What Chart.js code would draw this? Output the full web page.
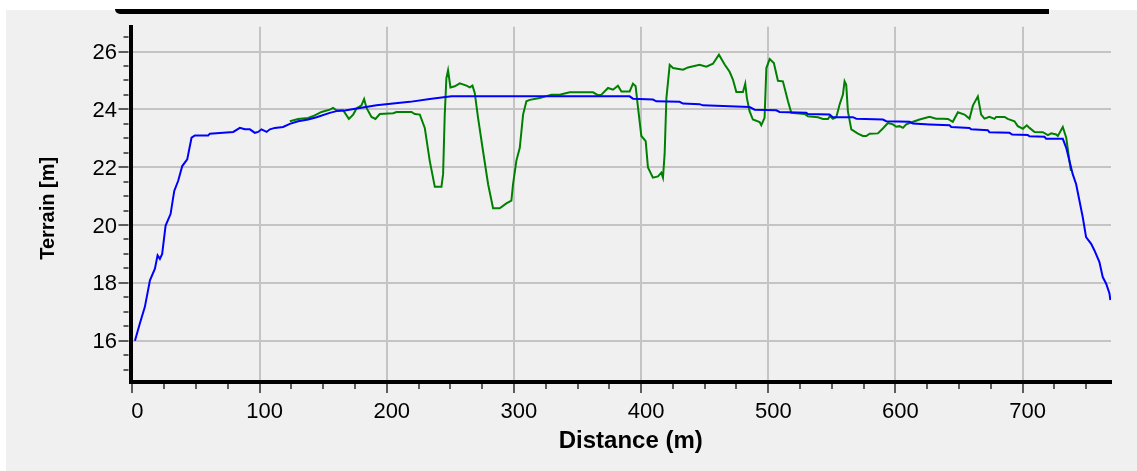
<!DOCTYPE html>
<html>
<head>
<meta charset="utf-8">
<title>Terrain profile</title>
<script src="https://cdn.jsdelivr.net/npm/chart.js@4.4.1/dist/chart.umd.min.js"></script>
<style>
  html, body { margin: 0; padding: 0; background: #fff; }
  #wrap { position: relative; width: 1137px; height: 471px; overflow: hidden; }
  #panel { position: absolute; left: 6px; top: 10px; right: 0; bottom: 0; background: #f0f0f0; }
  #bar { position: absolute; left: 115px; top: 9px; width: 934px; height: 5px; background: #000; border-bottom-left-radius: 5px; }
  canvas { position: absolute; left: 0; top: 0; }
</style>
</head>
<body>
<div id="wrap">
  <div id="panel"></div>
  <div id="bar"></div>
  <canvas id="profileChart" width="1137" height="471"></canvas>
</div>
<script>
// terrain line (blue)
var terrainDist = [2, 5.9, 9.8, 13.8, 17.7, 19.8, 21.6, 23.4, 26.1, 30.0,
  32.9, 36.0, 39.2, 43.1, 46.5, 49.1, 59.6, 60.9, 71.4, 79.3,
  84.5, 88.4, 92.4, 96.3, 98.9, 101.5, 105.5, 108.1, 112.0, 118.5,
  123.8, 130.3, 138.2, 144.8, 155.2, 160.5, 167.0, 178.8, 191.9, 205.0,
  218.1, 233.8, 250.9, 391.0, 393.6, 409.3, 412.0, 430.3, 432.9, 446.0,
  448.6, 469.6, 485.3, 489.3, 506.3, 508.9, 529.9, 531.2, 548.2, 550.8,
  566.6, 569.2, 590.1, 592.8, 611.1, 613.7, 626.8, 642.5, 643.9, 658.2,
  659.5, 672.6, 673.9, 689.7, 691.8, 704.1, 705.4, 717.2, 718.5, 731.6,
  734.3, 736.8, 739.4, 742.1, 744.7, 747.3, 749.9, 753.9, 756.5, 760.4,
  763.0, 765.7, 768.3, 769.0];
var terrainElev = [16.0, 16.6, 17.17, 18.09, 18.49, 18.95, 18.83, 19.0, 19.98, 20.38,
  21.18, 21.53, 22.04, 22.27, 23.02, 23.10, 23.10, 23.16, 23.19, 23.22,
  23.36, 23.31, 23.31, 23.19, 23.22, 23.31, 23.22, 23.31, 23.36, 23.39,
  23.50, 23.59, 23.65, 23.73, 23.88, 23.94, 23.96, 24.05, 24.14, 24.20,
  24.26, 24.36, 24.45, 24.45, 24.37, 24.34, 24.28, 24.26, 24.20, 24.18,
  24.14, 24.11, 24.08, 23.99, 23.97, 23.91, 23.88, 23.84, 23.82, 23.73,
  23.73, 23.68, 23.65, 23.59, 23.57, 23.51, 23.48, 23.45, 23.39, 23.36,
  23.31, 23.28, 23.21, 23.19, 23.13, 23.11, 23.07, 23.05, 22.98, 22.98,
  22.67, 22.22, 21.76, 21.41, 20.84, 20.27, 19.58, 19.35, 19.12, 18.72,
  18.20, 17.97, 17.63, 17.40];

// surface line (green)
var surfaceDist = [123.8, 130.3, 138.2, 143.4, 148.7, 155.2, 157.8, 160.5, 165.7, 170.2,
  173.6, 176.2, 180.1, 182.2, 184.1, 188.0, 191.1, 194.5, 205.0, 207.7,
  219.4, 222.1, 226.0, 229.9, 233.8, 237.8, 243.0, 244.3, 245.6, 246.9,
  248.2, 250.1, 253.5, 257.4, 262.7, 265.3, 267.4, 269.2, 271.8, 275.7,
  279.7, 283.6, 288.8, 294.1, 298.0, 299.3, 301.9, 304.6, 307.2, 309.8,
  312.4, 320.3, 329.5, 336.0, 343.9, 362.2, 366.1, 368.8, 374.0, 377.9,
  381.8, 384.5, 391.0, 393.6, 395.7, 397.6, 400.2, 403.6, 405.4, 409.3,
  413.3, 415.9, 417.2, 418.5, 419.9, 422.5, 425.1, 433.0, 436.9, 446.0,
  451.3, 456.5, 461.2, 465.7, 469.6, 472.2, 474.9, 480.1, 481.9, 483.2,
  485.3, 487.9, 493.2, 494.5, 497.1, 498.5, 501.1, 504.4, 507.6, 511.5,
  515.5, 518.1, 528.6, 531.2, 539.1, 543.0, 547.0, 548.3, 550.9, 553.5,
  556.1, 558.7, 560.0, 561.3, 562.6, 565.3, 570.5, 574.4, 577.1, 579.7,
  586.2, 590.1, 594.1, 598.0, 600.6, 603.2, 605.9, 608.5, 611.1, 619.0,
  626.8, 632.0, 637.3, 641.3, 645.1, 649.1, 654.3, 658.2, 660.9, 664.8,
  667.4, 670.0, 673.9, 677.9, 679.2, 685.8, 688.3, 693.6, 696.2, 700.2,
  703.3, 705.4, 709.4, 715.9, 719.9, 722.5, 726.4, 727.7, 731.6, 734.3,
  736.8, 738.0];
var surfaceElev = [23.59, 23.67, 23.70, 23.79, 23.91, 23.99, 24.05, 23.97, 23.97, 23.67,
  23.82, 24.03, 24.14, 24.36, 24.05, 23.74, 23.67, 23.84, 23.87, 23.91,
  23.91, 23.84, 23.82, 23.36, 22.22, 21.32, 21.32, 21.76, 23.82, 25.08,
  25.35, 24.76, 24.80, 24.90, 24.82, 24.76, 24.82, 24.57, 23.71, 22.56,
  21.41, 20.58, 20.58, 20.75, 20.84, 21.41, 22.22, 22.67, 23.82, 24.28,
  24.33, 24.39, 24.51, 24.51, 24.59, 24.59, 24.49, 24.51, 24.74, 24.68,
  24.82, 24.62, 24.62, 24.89, 24.80, 24.05, 23.08, 22.90, 21.99, 21.64,
  21.68, 21.81, 21.64, 22.45, 24.39, 25.54, 25.43, 25.37, 25.45, 25.54,
  25.48, 25.58, 25.89, 25.55, 25.30, 25.03, 24.60, 24.60, 24.89, 24.39,
  23.94, 23.65, 23.56, 23.45, 23.71, 25.43, 25.74, 25.60, 24.99, 24.97,
  24.28, 23.88, 23.84, 23.76, 23.73, 23.67, 23.67, 23.76, 23.67, 23.73,
  24.17, 24.51, 24.97, 24.85, 23.94, 23.31, 23.16, 23.08, 23.08, 23.16,
  23.17, 23.34, 23.53, 23.48, 23.40, 23.42, 23.36, 23.48, 23.53, 23.65,
  23.74, 23.68, 23.68, 23.67, 23.57, 23.90, 23.82, 23.68, 24.13, 24.45,
  23.82, 23.68, 23.74, 23.67, 23.74, 23.74, 23.67, 23.59, 23.42, 23.33,
  23.45, 23.36, 23.22, 23.21, 23.11, 23.17, 23.13, 23.08, 23.39, 23.02,
  22.22, 21.87];

var xTicks = [0, 100, 200, 300, 400, 500, 600, 700];
var yTicks = [16, 18, 20, 22, 24, 26];
var xMinorStep = 25;
var yMinorStep = 0.5;
var xTitle = "Distance (m)";
var yTitle = "Terrain [m]";

var FONT = "'Liberation Sans', Arial, sans-serif";

function toPoints(xs, ys) {
  return xs.map(function (v, i) { return { x: v, y: ys[i] }; });
}

// small tick marks outside the axes (major + minor)
var tickMarks = {
  id: "tickMarks",
  afterDraw: function (chart) {
    var ctx = chart.ctx, a = chart.chartArea;
    var xs = chart.scales.x, ys = chart.scales.y;
    ctx.save();
    ctx.strokeStyle = "#5c5c5c";
    ctx.lineWidth = 2;
    ctx.beginPath();
    for (var v = 0; v <= xs.max; v += xMinorStep) {
      var px = Math.round(xs.getPixelForValue(v));
      var len = (v % 100 === 0) ? 9 : 5;
      ctx.moveTo(px, a.bottom + 2);
      ctx.lineTo(px, a.bottom + 2 + len);
    }
    for (var w = Math.ceil(ys.min / yMinorStep) * yMinorStep; w <= ys.max; w += yMinorStep) {
      var py = Math.round(ys.getPixelForValue(w));
      var l2 = (w % 2 === 0) ? 10 : 5;
      ctx.moveTo(a.left - 2, py);
      ctx.lineTo(a.left - 2 - l2, py);
    }
    ctx.stroke();
    ctx.restore();
  }
};

// axis titles (the x title sits a little right of the plot centre)
var axisTitles = {
  id: "axisTitles",
  afterDraw: function (chart) {
    var c = chart.ctx, a = chart.chartArea;
    c.save();
    c.fillStyle = "#000";
    c.textAlign = "center";
    c.textBaseline = "middle";
    c.font = "bold 24px " + FONT;
    c.fillText(xTitle, (a.left + a.right) / 2 + 10, 441);
    c.translate(48, (a.top + a.bottom) / 2 + 4);
    c.rotate(-Math.PI / 2);
    c.font = "bold 20px " + FONT;
    c.fillText(yTitle, 0, 0);
    c.restore();
  }
};

var ctx = document.getElementById("profileChart").getContext("2d");
var profileChart = new Chart(ctx, {
  type: "line",
  data: {
    datasets: [{
      label: "Terrain",
      data: toPoints(terrainDist, terrainElev),
      borderColor: "#0000ff",
      borderWidth: 2,
      pointRadius: 0,
      tension: 0,
      fill: false
    }, {
      label: "Surface",
      data: toPoints(surfaceDist, surfaceElev),
      borderColor: "#008000",
      borderWidth: 2,
      pointRadius: 0,
      tension: 0,
      fill: false
    }]
  },
  options: {
    responsive: false,
    animation: false,
    layout: { padding: { top: 25, right: 26, left: 0, bottom: 0 } },
    plugins: { legend: { display: false }, tooltip: { enabled: false } },
    scales: {
      x: {
        type: "linear",
        min: -1.5,
        max: 769.5,
        afterBuildTicks: function (s) { s.ticks = xTicks.map(function (v) { return { value: v }; }); },
        afterFit: function (s) { s.height = 89; },
        grid: { color: "#c4c4c4", lineWidth: 2, drawTicks: false },
        border: { display: true, color: "#000", width: 4 },
        ticks: { color: "#000", font: { family: FONT, size: 22 }, padding: 17, labelOffset: 5, maxRotation: 0, autoSkip: false }
      },
      y: {
        min: 14.57,
        max: 26.86,
        afterBuildTicks: function (s) { s.ticks = yTicks.map(function (v) { return { value: v }; }); },
        afterFit: function (s) { s.width = 130.5; },
        grid: { color: "#c4c4c4", lineWidth: 2, drawTicks: false },
        border: { display: true, color: "#000", width: 4 },
        ticks: { color: "#000", font: { family: FONT, size: 22 }, padding: 13.5, labelOffset: 1.5, autoSkip: false }
      }
    }
  },
  plugins: [tickMarks, axisTitles]
});
</script>
</body>
</html>
